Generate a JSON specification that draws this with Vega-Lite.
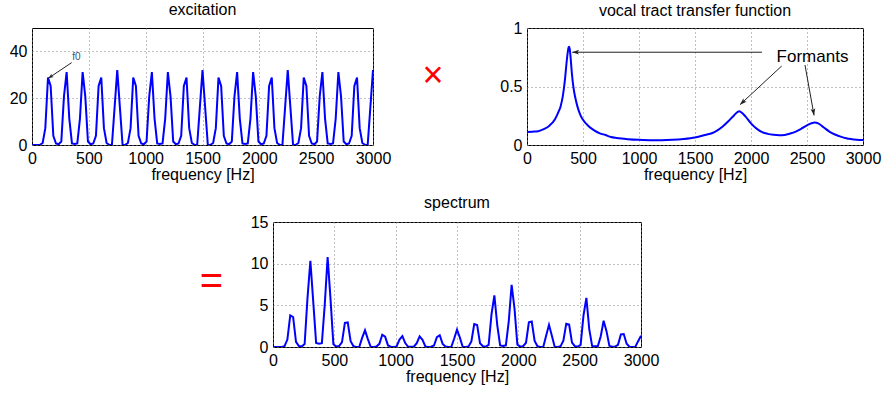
{
  "$schema": "https://vega.github.io/schema/vega-lite/v6.json",
  "padding": {"left": 8, "top": 1, "right": 5, "bottom": 5},
  "background": "white",
  "datasets": {
    "sig": [
      {"f":0,"e":0,"s":0},{"f":23.44,"e":0,"s":0},{"f":46.88,"e":0,"s":0},{"f":70.31,"e":0.1,"s":0.01},
      {"f":93.75,"e":0.85,"s":0.1},{"f":117.19,"e":7.2,"s":0.89},{"f":140.63,"e":28.8,"s":3.8},{"f":164.06,"e":25.2,"s":3.6},
      {"f":187.5,"e":3.9,"s":0.62},{"f":210.94,"e":0.65,"s":0.12},{"f":234.38,"e":0.3,"s":0.06},{"f":257.81,"e":1.5,"s":0.35},
      {"f":281.25,"e":20.8,"s":5.89},{"f":304.69,"e":31.2,"s":10.35},{"f":328.13,"e":11.3,"s":5.42},{"f":351.56,"e":0.7,"s":0.48},
      {"f":375,"e":0.45,"s":0.38},{"f":398.44,"e":0.7,"s":0.45},{"f":421.88,"e":11.3,"s":5.09},{"f":445.31,"e":31.2,"s":10.8},
      {"f":468.75,"e":20.8,"s":5.78},{"f":492.19,"e":1.5,"s":0.34},{"f":515.63,"e":0.3,"s":0.06},{"f":539.06,"e":0.65,"s":0.11},
      {"f":562.5,"e":3.9,"s":0.59},{"f":585.94,"e":25.2,"s":2.9},{"f":609.38,"e":28.8,"s":2.95},{"f":632.81,"e":7.2,"s":0.7},
      {"f":656.25,"e":0.85,"s":0.08},{"f":679.69,"e":0.1,"s":0.01},{"f":703.13,"e":0,"s":0},{"f":726.56,"e":16,"s":1.1},
      {"f":750,"e":32,"s":2.0},{"f":773.44,"e":16,"s":0.95},{"f":796.88,"e":0,"s":0},{"f":820.31,"e":0.1,"s":0.01},
      {"f":843.75,"e":0.85,"s":0.05},{"f":867.19,"e":7.2,"s":0.38},{"f":890.63,"e":28.8,"s":1.47},{"f":914.06,"e":25.2,"s":1.23},
      {"f":937.5,"e":3.9,"s":0.19},{"f":960.94,"e":0.65,"s":0.03},{"f":984.38,"e":0.3,"s":0.01},{"f":1007.81,"e":1.5,"s":0.07},
      {"f":1031.25,"e":20.8,"s":0.89},{"f":1054.69,"e":31.2,"s":1.31},{"f":1078.13,"e":11.3,"s":0.47},{"f":1101.56,"e":0.7,"s":0.03},
      {"f":1125,"e":0.45,"s":0.02},{"f":1148.44,"e":0.7,"s":0.03},{"f":1171.88,"e":11.3,"s":0.46},{"f":1195.31,"e":31.2,"s":1.28},
      {"f":1218.75,"e":20.8,"s":0.87},{"f":1242.19,"e":1.5,"s":0.06},{"f":1265.63,"e":0.3,"s":0.01},{"f":1289.06,"e":0.65,"s":0.03},
      {"f":1312.5,"e":3.9,"s":0.18},{"f":1335.94,"e":25.2,"s":1.18},{"f":1359.38,"e":28.8,"s":1.41},{"f":1382.81,"e":7.2,"s":0.37},
      {"f":1406.25,"e":0.85,"s":0.05},{"f":1429.69,"e":0.1,"s":0.01},{"f":1453.13,"e":0,"s":0},{"f":1476.56,"e":16,"s":0.99},
      {"f":1500,"e":32,"s":2.08},{"f":1523.44,"e":16,"s":1.12},{"f":1546.88,"e":0,"s":0},{"f":1570.31,"e":0.1,"s":0.01},
      {"f":1593.75,"e":0.85,"s":0.07},{"f":1617.19,"e":7.2,"s":0.66},{"f":1640.63,"e":28.8,"s":2.75},{"f":1664.06,"e":25.2,"s":2.65},
      {"f":1687.5,"e":3.9,"s":0.46},{"f":1710.94,"e":0.65,"s":0.09},{"f":1734.38,"e":0.3,"s":0.04},{"f":1757.81,"e":1.5,"s":0.25},
      {"f":1781.25,"e":20.8,"s":3.91},{"f":1804.69,"e":31.2,"s":6.2},{"f":1828.13,"e":11.3,"s":2.63},{"f":1851.56,"e":0.7,"s":0.18},
      {"f":1875,"e":0.45,"s":0.12},{"f":1898.44,"e":0.7,"s":0.2},{"f":1921.88,"e":11.3,"s":3.08},{"f":1945.31,"e":31.2,"s":7.45},
      {"f":1968.75,"e":20.8,"s":4.62},{"f":1992.19,"e":1.5,"s":0.29},{"f":2015.63,"e":0.3,"s":0.05},{"f":2039.06,"e":0.65,"s":0.1},
      {"f":2062.5,"e":3.9,"s":0.51},{"f":2085.94,"e":25.2,"s":2.97},{"f":2109.38,"e":28.8,"s":3.05},{"f":2132.81,"e":7.2,"s":0.72},
      {"f":2156.25,"e":0.85,"s":0.08},{"f":2179.69,"e":0.1,"s":0.01},{"f":2203.13,"e":0,"s":0},{"f":2226.56,"e":16,"s":1.36},
      {"f":2250,"e":32,"s":2.66},{"f":2273.44,"e":16,"s":1.34},{"f":2296.88,"e":0,"s":0},{"f":2320.31,"e":0.1,"s":0.01},
      {"f":2343.75,"e":0.85,"s":0.08},{"f":2367.19,"e":7.2,"s":0.75},{"f":2390.63,"e":28.8,"s":2.8},{"f":2414.06,"e":25.2,"s":2.7},
      {"f":2437.5,"e":3.9,"s":0.52},{"f":2460.94,"e":0.65,"s":0.09},{"f":2484.38,"e":0.3,"s":0.05},{"f":2507.81,"e":1.5,"s":0.26},
      {"f":2531.25,"e":20.8,"s":3.79},{"f":2554.69,"e":31.2,"s":5.9},{"f":2578.13,"e":11.3,"s":2.15},{"f":2601.56,"e":0.7,"s":0.13},
      {"f":2625,"e":0.45,"s":0.08},{"f":2648.44,"e":0.7,"s":0.11},{"f":2671.88,"e":11.3,"s":1.3},{"f":2695.31,"e":31.2,"s":3.15},
      {"f":2718.75,"e":20.8,"s":1.9},{"f":2742.19,"e":1.5,"s":0.14},{"f":2765.63,"e":0.3,"s":0.03},{"f":2789.06,"e":0.65,"s":0.05},
      {"f":2812.5,"e":3.9,"s":0.27},{"f":2835.94,"e":25.2,"s":1.5},{"f":2859.38,"e":28.8,"s":1.55},{"f":2882.81,"e":7.2,"s":0.38},
      {"f":2906.25,"e":0.85,"s":0.04},{"f":2929.69,"e":0.1,"s":0},{"f":2953.13,"e":0,"s":0},{"f":2976.56,"e":16,"s":0.7},
      {"f":3000,"e":32,"s":1.34}
    ],
    "tf": [
      {"f":0,"h":0.112},{"f":50,"h":0.114},{"f":100,"h":0.118},{"f":150,"h":0.135},{"f":200,"h":0.165},{"f":250,"h":0.22},
      {"f":280,"h":0.28},{"f":300,"h":0.33},{"f":320,"h":0.42},{"f":340,"h":0.57},{"f":355,"h":0.72},{"f":365,"h":0.8},
      {"f":372,"h":0.835},{"f":377,"h":0.84},{"f":383,"h":0.81},{"f":390,"h":0.74},{"f":400,"h":0.62},{"f":415,"h":0.49},
      {"f":430,"h":0.41},{"f":450,"h":0.33},{"f":475,"h":0.26},{"f":500,"h":0.215},{"f":550,"h":0.16},{"f":600,"h":0.125},
      {"f":650,"h":0.1},{"f":700,"h":0.085},{"f":750,"h":0.068},{"f":800,"h":0.06},{"f":900,"h":0.05},{"f":1000,"h":0.044},
      {"f":1100,"h":0.041},{"f":1200,"h":0.041},{"f":1300,"h":0.044},{"f":1400,"h":0.052},{"f":1500,"h":0.065},{"f":1600,"h":0.088},
      {"f":1650,"h":0.1},{"f":1700,"h":0.125},{"f":1750,"h":0.16},{"f":1800,"h":0.205},{"f":1850,"h":0.255},{"f":1880,"h":0.282},
      {"f":1895,"h":0.288},{"f":1910,"h":0.282},{"f":1950,"h":0.245},{"f":2000,"h":0.185},{"f":2050,"h":0.14},{"f":2100,"h":0.11},
      {"f":2150,"h":0.095},{"f":2200,"h":0.087},{"f":2250,"h":0.083},{"f":2300,"h":0.086},{"f":2350,"h":0.098},{"f":2400,"h":0.115},
      {"f":2450,"h":0.14},{"f":2500,"h":0.168},{"f":2540,"h":0.186},{"f":2570,"h":0.192},{"f":2600,"h":0.185},{"f":2650,"h":0.15},
      {"f":2700,"h":0.115},{"f":2750,"h":0.09},{"f":2800,"h":0.072},{"f":2850,"h":0.058},{"f":2900,"h":0.05},{"f":3000,"h":0.042}
    ]
  },
  "vconcat": [
    {
      "hconcat": [
        {
          "width": 341, "height": 117,
          "title": {"text": "excitation", "offset": 10},
          "encoding": {
            "x": {"field": "f", "type": "quantitative", "scale": {"domain": [0, 3000], "nice": false},
                  "axis": {"values": [0,500,1000,1500,2000,2500,3000], "format": "d", "title": "frequency [Hz]"}},
            "y": {"field": "e", "type": "quantitative", "scale": {"domain": [0, 50], "nice": false},
                  "axis": {"values": [0,20,40], "title": null}}
          },
          "layer": [
            {"data": {"name": "sig"}, "mark": {"type": "line", "color": "#0000ff", "strokeWidth": 2, "clip": true}},
            {"data": {"values": [{"f": 349, "e": 35.2, "f2": 143, "e2": 28.5}]},
             "mark": {"type": "rule", "color": "#222222", "strokeWidth": 1},
             "encoding": {"x2": {"field": "f2"}, "y2": {"field": "e2"}}},
            {"data": {"values": [{"f": 143, "e": 28.5}]},
             "mark": {"type": "point", "shape": "M0,0L-0.6,1.7L0,1.3L0.6,1.7Z", "filled": true, "color": "#222222", "opacity": 1, "size": 40, "angle": 236}},
            {"data": {"values": [{"f": 391, "e": 37.8, "label": "f0"}]},
             "mark": {"type": "text", "fontSize": 10, "color": "#34507a"},
             "encoding": {"text": {"field": "label"}}}
          ]
        },
        {
          "width": 154, "height": 117,
          "view": {"stroke": null},
          "data": {"values": [{"sym": "×"}]},
          "mark": {"type": "text", "fontSize": 36, "color": "#ff0000", "dx": -17, "dy": -11, "baseline": "middle"},
          "encoding": {"text": {"field": "sym"}}
        },
        {
          "width": 336, "height": 117,
          "title": {"text": "vocal tract transfer function", "offset": 1},
          "encoding": {
            "x": {"field": "f", "type": "quantitative", "scale": {"domain": [0, 3000], "nice": false},
                  "axis": {"values": [0,500,1000,1500,2000,2500,3000], "format": "d", "title": "frequency [Hz]"}},
            "y": {"field": "h", "type": "quantitative", "scale": {"domain": [0, 1], "nice": false},
                  "axis": {"values": [0,0.5,1], "format": "~g", "title": null}}
          },
          "layer": [
            {"data": {"name": "tf"}, "mark": {"type": "line", "color": "#0000ff", "strokeWidth": 2, "interpolate": "monotone", "clip": true}},
            {"data": {"values": [
                {"f": 2098, "h": 0.793, "f2": 404, "h2": 0.793},
                {"f": 2274, "h": 0.675, "f2": 1902, "h2": 0.345},
                {"f": 2482, "h": 0.684, "f2": 2563, "h2": 0.253}]},
             "mark": {"type": "rule", "color": "#222222", "strokeWidth": 1},
             "encoding": {"x2": {"field": "f2"}, "y2": {"field": "h2"}}},
            {"data": {"values": [{"f": 404, "h": 0.793}]},
             "mark": {"type": "point", "shape": "M0,0L-0.6,1.7L0,1.3L0.6,1.7Z", "filled": true, "color": "#222222", "opacity": 1, "size": 64, "angle": 270}},
            {"data": {"values": [{"f": 1902, "h": 0.345}]},
             "mark": {"type": "point", "shape": "M0,0L-0.6,1.7L0,1.3L0.6,1.7Z", "filled": true, "color": "#222222", "opacity": 1, "size": 64, "angle": 227}},
            {"data": {"values": [{"f": 2563, "h": 0.253}]},
             "mark": {"type": "point", "shape": "M0,0L-0.6,1.7L0,1.3L0.6,1.7Z", "filled": true, "color": "#222222", "opacity": 1, "size": 64, "angle": 170}},
            {"data": {"values": [{"f": 2549, "h": 0.754, "label": "Formants"}]},
             "mark": {"type": "text", "fontSize": 17, "color": "#000000"},
             "encoding": {"text": {"field": "label"}}}
          ]
        }
      ],
      "spacing": 0,
      "bounds": "flush"
    },
    {
      "hconcat": [
        {
          "width": 241, "height": 125,
          "view": {"stroke": null},
          "data": {"values": [{"sym": "="}]},
          "mark": {"type": "text", "fontSize": 40, "color": "#ff0000", "dx": 59, "dy": -3, "baseline": "middle"},
          "encoding": {"text": {"field": "sym"}}
        },
        {
          "width": 368, "height": 125,
          "title": {"text": "spectrum", "offset": 3},
          "data": {"name": "sig"},
          "mark": {"type": "line", "color": "#0000ff", "strokeWidth": 2, "clip": true},
          "encoding": {
            "x": {"field": "f", "type": "quantitative", "scale": {"domain": [0, 3000], "nice": false},
                  "axis": {"values": [0,500,1000,1500,2000,2500,3000], "format": "d", "title": "frequency [Hz]"}},
            "y": {"field": "s", "type": "quantitative", "scale": {"domain": [0, 15], "nice": false},
                  "axis": {"values": [0,5,10,15], "title": null}}
          }
        }
      ],
      "spacing": 0,
      "bounds": "flush"
    }
  ],
  "spacing": 11,
  "config": {
    "font": "Liberation Sans",
    "view": {"stroke": "#000000", "strokeWidth": 1},
    "axis": {
      "labelFontSize": 16, "labelColor": "#000000", "labelFont": "Liberation Sans",
      "titleFontSize": 16, "titleFontWeight": "normal", "titleColor": "#000000", "titleFont": "Liberation Sans",
      "domain": false, "ticks": false, "tickSize": 0, "labelPadding": 5, "titlePadding": 0,
      "grid": true, "gridColor": "#808080", "gridDash": [1, 3], "gridOpacity": 1, "gridWidth": 1,
      "labelFlush": false, "labelOverlap": false
    },
    "title": {"fontSize": 16, "fontWeight": "normal", "color": "#000000", "font": "Liberation Sans"}
  }
}
